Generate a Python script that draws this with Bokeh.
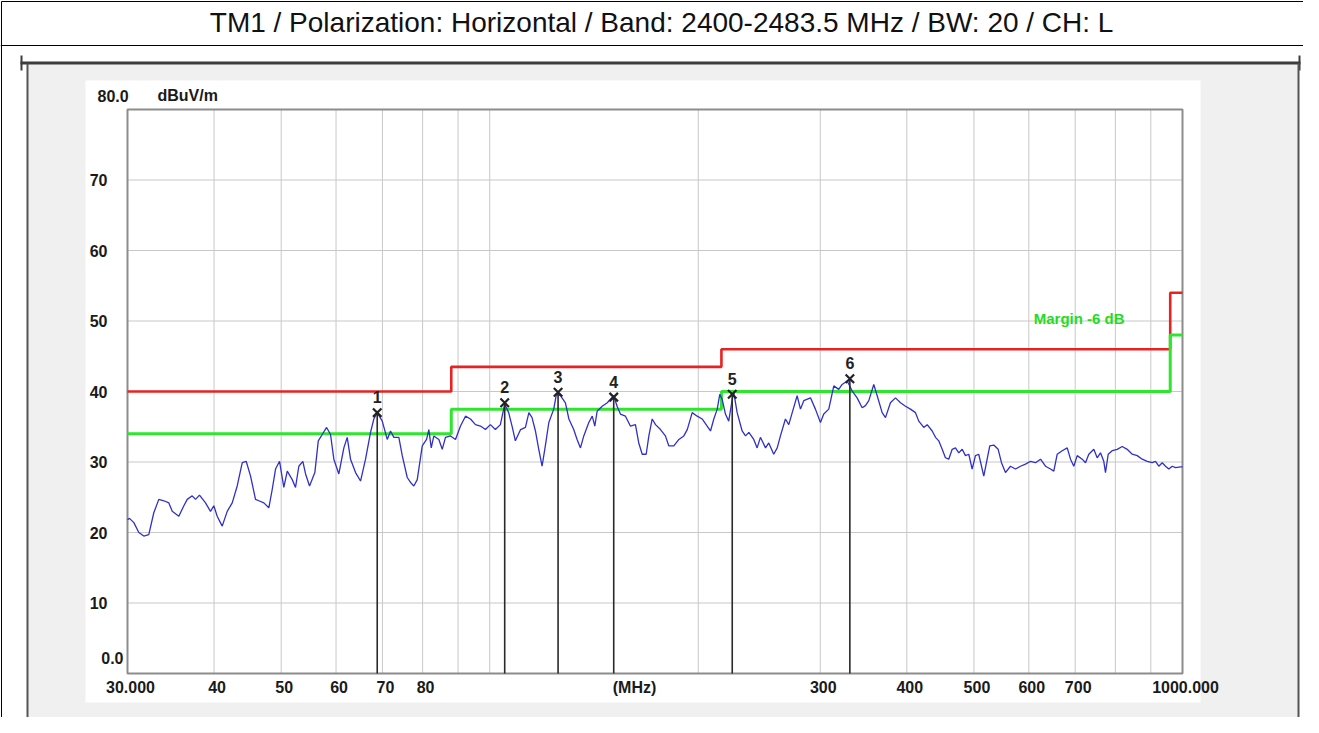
import math
from bokeh.plotting import figure
from bokeh.models import BoxAnnotation, Label, Range1d
from bokeh.embed import file_html
from bokeh.resources import INLINE
from bokeh.core.properties import value

# ---------------- data ----------------
title_text = "TM1 / Polarization: Horizontal / Band: 2400-2483.5 MHz  / BW: 20 / CH: L"

freq_1 = [30.0, 30.20, 30.64, 31.15, 31.67, 32.20, 32.74, 33.29, 33.85, 34.42,
          34.81, 35.58, 36.18, 36.59, 37.20, 37.61, 38.11, 38.88, 39.53, 39.97,
          40.42, 41.10, 41.79, 42.49, 43.20, 43.93, 44.51, 45.16, 45.91, 46.42,
          47.20, 47.99, 48.53, 49.07, 49.73, 50.44, 51.02, 51.87, 52.44, 53.02,
          53.73, 54.22, 54.94, 55.92, 56.56, 57.31, 58.14, 58.91, 59.56, 60.56]
level_1 = [21.8, 22.0, 21.4, 20.0, 19.5, 19.7, 22.8, 24.7, 24.5, 24.2,
           23.0, 22.3, 23.8, 24.7, 25.2, 24.7, 25.3, 24.2, 23.0, 23.8,
           22.3, 20.9, 23.0, 24.2, 26.6, 29.9, 30.1, 28.0, 24.7, 24.5,
           24.2, 23.5, 26.1, 29.0, 30.1, 26.4, 28.7, 27.5, 26.4, 29.4,
           30.1, 28.3, 26.6, 28.5, 33.0, 33.9, 34.9, 33.9, 30.4, 28.3]

freq_2 = [61.58, 62.27, 62.96, 64.02, 65.09, 66.18, 67.29, 68.03, 68.80, 69.96,
          71.13, 71.91, 72.71, 73.93, 74.77, 76.02, 76.86, 77.71, 78.59, 79.91,
          81.06, 81.68, 82.33, 83.05, 84.44, 85.40, 86.32, 87.77, 89.24, 90.74,
          92.26, 93.80, 95.37, 96.97, 98.59, 100.2, 101.9, 103.6, 105.1, 106.5,
          107.7, 108.9, 110.8, 112.6, 113.9, 115.1, 116.4, 117.7, 119.0, 120.3,
          121.7, 123.7, 124.8]
level_2 = [32.0, 33.5, 30.4, 28.5, 27.3, 30.4, 34.2, 36.1, 37.0, 35.8,
           33.2, 34.4, 33.5, 33.5, 30.9, 27.8, 27.1, 26.6, 27.5, 32.3,
           33.2, 34.6, 32.0, 33.7, 33.2, 31.8, 33.5, 33.7, 33.2, 35.1,
           36.5, 36.1, 35.3, 35.1, 34.6, 35.3, 34.6, 35.3, 38.2, 37.0,
           35.1, 33.0, 34.6, 34.9, 37.0, 36.3, 34.4, 31.8, 29.4, 32.3,
           35.6, 37.5, 39.6]

freq_3 = [126.5, 128.6, 130.1, 132.2, 133.7, 135.2, 136.7, 139.0, 140.6, 141.8,
          142.9, 145.3, 147.8, 149.4, 151.0, 152.7, 154.4, 157.0, 159.6, 162.3,
          164.1, 166.0, 168.2, 169.7, 171.6, 173.5, 176.4, 179.3, 181.3, 184.4,
          187.5, 190.6, 192.8, 196.0, 199.3, 202.6, 206.0, 208.3, 210.6, 213.0,
          214.8, 216.5, 218.9, 221.3, 223.9, 225.1, 227.6, 231.4, 234.0, 236.6,
          240.5, 243.2, 245.9, 250.1, 252.8, 257.0]
level_3 = [39.4, 38.4, 36.1, 34.6, 33.2, 32.0, 33.7, 35.6, 36.5, 35.1,
           37.2, 37.9, 38.4, 38.9, 39.4, 37.9, 36.8, 36.5, 35.1, 35.3,
           32.7, 31.1, 31.1, 33.7, 36.1, 35.3, 34.6, 33.7, 32.3, 32.3,
           33.2, 33.7, 34.6, 37.0, 36.5, 36.1, 35.1, 34.4, 36.1, 37.5,
           39.6, 38.9, 36.8, 35.8, 38.9, 39.8, 37.0, 34.4, 33.7, 34.2,
           33.2, 32.0, 33.5, 32.0, 32.7, 31.1]

freq_4 = [260.0, 262.8, 267.2, 270.2, 273.3, 277.8, 280.9, 284.0, 290.4, 295.2,
          300.2, 303.5, 308.6, 313.8, 319.0, 322.6, 328.1, 333.5, 339.1, 344.8,
          348.6, 352.5, 358.4, 362.5, 368.5, 372.6, 378.8, 385.2, 391.7, 398.2,
          404.9, 411.7, 416.2, 423.2, 428.0, 435.2, 440.0, 444.8, 449.9, 454.8,
          459.8, 465.1, 470.2, 475.4, 480.8, 486.1, 491.5, 497.0, 502.5, 508.0,
          516.6, 522.4, 527.0]
level_4 = [32.0, 33.7, 36.1, 35.3, 37.0, 39.4, 37.5, 38.7, 39.1, 37.5,
           35.6, 36.8, 37.5, 40.8, 40.3, 41.0, 41.5, 40.1, 39.1, 37.7,
           38.0, 38.7, 41.0, 39.4, 37.0, 36.3, 38.4, 39.1, 38.4, 37.9,
           37.5, 37.0, 35.8, 34.9, 35.3, 34.4, 33.5, 33.0, 31.8, 30.6,
           30.4, 31.8, 32.0, 31.3, 31.8, 30.9, 31.1, 29.0, 30.9, 31.1,
           28.0, 30.4, 32.3]

freq_5 = [534.0, 541.9, 547.9, 555.2, 564.5, 574.0, 583.6, 593.4, 603.4, 613.5,
          623.8, 634.2, 644.9, 652.0, 659.4, 670.4, 681.7, 689.2, 696.8, 704.7,
          716.5, 724.4, 732.4, 744.7, 753.1, 761.4, 769.8, 774.2, 781.2, 791.6,
          804.9, 818.4, 832.1, 846.1, 860.3, 874.7, 889.4, 904.3, 914.2, 924.3,
          934.8, 945.1, 955.6, 966.4, 977.1, 993.5, 1000.0]
level_5 = [32.4, 31.8, 29.9, 28.5, 29.4, 29.0, 29.4, 29.7, 30.1, 29.9,
           30.4, 29.4, 29.0, 28.7, 31.1, 31.6, 32.0, 30.4, 29.4, 30.9,
           30.4, 29.9, 31.1, 31.8, 30.6, 31.3, 30.1, 28.5, 31.1, 31.6,
           31.8, 32.2, 31.8, 31.1, 30.9, 30.4, 30.1, 29.9, 30.1, 29.4,
           29.9, 29.4, 29.0, 29.4, 29.2, 29.3, 29.3]

limit_freq = [30, 88, 88, 216, 216, 960, 960, 1000]
limit_db = [40.0, 40.0, 43.5, 43.5, 46.0, 46.0, 54.0, 54.0]
margin_db = [34.0, 34.0, 37.5, 37.5, 40.0, 40.0, 48.0, 48.0]
margin_text = "Margin -6 dB"
margin_text_freq = 610.0
margin_text_db = 50.4

marker_no = ["1", "2", "3", "4", "5", "6"]
marker_freq = [68.8, 105.1, 125.5, 151.0, 223.9, 331.0]
marker_db = [37.0, 38.4, 39.9, 39.2, 39.6, 41.8]

x_min, x_max = 30.0, 1000.0
y_min, y_max = 0.0, 80.0
x_ticks = [30, 40, 50, 60, 70, 80, 90, 100, 200, 300, 400, 500, 600, 700, 800, 900, 1000]
x_tick_text = ["30.000", "40", "50", "60", "70", "80", "", "", "", "300", "400",
               "500", "600", "700", "", "", "1000.000"]
y_ticks = [10, 20, 30, 40, 50, 60, 70]
y_tick_text = ["10", "20", "30", "40", "50", "60", "70"]
y_top_text = "80.0"
y_bottom_text = "0.0"
y_unit_text = "dBuV/m"
x_unit_text = "(MHz)"

freq = freq_1 + freq_2 + freq_3 + freq_4 + freq_5
level = level_1 + level_2 + level_3 + level_4 + level_5

# ---------------- layout (pixels) ----------------
W, H = 1303, 717
FL, FR, FT, FB = 127, 1182, 109, 673          # plot-area edges on the canvas
FONT = "Liberation Sans"

px_per_dec = (FR - FL) / math.log10(x_max / x_min)
px_per_db = (FB - FT) / (y_max - y_min)
xr = Range1d(x_min / 10 ** (FL / px_per_dec), x_max * 10 ** ((W - FR) / px_per_dec))
yr = Range1d(y_min - (H - FB) / px_per_db, y_max + FT / px_per_db)

p = figure(width=W, height=H, x_range=xr, y_range=yr,
           x_axis_type="log", y_axis_type="linear",
           x_axis_location=None, y_axis_location=None,
           output_backend="svg", toolbar_location=None,
           min_border=0, min_border_left=0, min_border_right=0,
           min_border_top=0, min_border_bottom=0)
p.grid.visible = False
p.outline_line_color = None
p.background_fill_color = "white"
p.border_fill_color = "white"


def cbox(l, r, t, b, fill=None, line=None, lw=1):
    box = BoxAnnotation(left=l, right=r, top=t, bottom=b,
                        left_units="canvas", right_units="canvas",
                        top_units="canvas", bottom_units="canvas",
                        fill_color=fill, fill_alpha=1.0 if fill else 0.0,
                        line_color=line, line_alpha=1.0 if line else 0.0,
                        line_width=lw, level="underlay")
    p.add_layout(box)


# page decorations (canvas pixels)
cbox(1, 1303, 1, 800, fill=None, line="#000000", lw=1)
cbox(0, 1303, 44.5, 45.5, fill="#000000")
cbox(27, 1298, 63, 800, fill="#f0f0f0")
cbox(85, 1200, 80, 702, fill="#ffffff")
cbox(20, 1300, 61, 64, fill="#3c3c3c")
cbox(20, 22, 55, 70, fill="#3c3c3c")
cbox(1298, 1300, 55, 70, fill="#3c3c3c")
cbox(26, 28, 63, 800, fill="#555555")
cbox(1297, 1299, 63, 800, fill="#555555")

p.add_layout(Label(x=665, y=22, x_units="canvas", y_units="canvas", text=title_text,
                   text_align="center", text_baseline="middle",
                   text_font=FONT, text_font_size="28px", text_color="#111111"))

# grid + plot outline, drawn through the data scales
p.segment(x0=x_ticks, y0=[y_min] * len(x_ticks), x1=x_ticks, y1=[y_max] * len(x_ticks),
          line_color="#c8c8c8", line_width=1)
p.segment(x0=[x_min] * len(y_ticks), y0=y_ticks, x1=[x_max] * len(y_ticks), y1=y_ticks,
          line_color="#c8c8c8", line_width=1)
p.quad(left=[x_min], right=[x_max], bottom=[y_min], top=[y_max],
       fill_color=None, line_color="#8c8c8c", line_width=2)

lab = dict(text_font=value(FONT), text_font_style="bold", text_font_size="16px",
           text_color="#1a1a1a")
p.text(x=x_ticks, y=[y_min] * len(x_ticks), text=x_tick_text, x_offset=3, y_offset=7,
       text_align="center", text_baseline="top", **lab)
p.text(x=[x_min] * len(y_ticks), y=y_ticks, text=y_tick_text, x_offset=-20,
       text_align="right", text_baseline="middle", **lab)

lkw = dict(text_font=FONT, text_font_style="bold", text_font_size="16px",
           text_color="#1a1a1a", text_baseline="middle")
p.add_layout(Label(x=123, y=657, x_units="canvas", y_units="canvas",
                   text=y_bottom_text, text_align="right", **lkw))
p.add_layout(Label(x=97, y=95, x_units="canvas", y_units="canvas",
                   text=y_top_text, text_align="left", **lkw))
p.add_layout(Label(x=157, y=95, x_units="canvas", y_units="canvas",
                   text=y_unit_text, text_align="left", **lkw))
p.add_layout(Label(x=634, y=687, x_units="canvas", y_units="canvas",
                   text=x_unit_text, text_align="center", **lkw))

# limit & margin lines
p.line(limit_freq, limit_db, line_color="#e82222", line_width=2.6)
p.line(limit_freq, margin_db, line_color="#2ee62e", line_width=3)
p.text(x=[margin_text_freq], y=[margin_text_db], text=[margin_text],
       text_font=value(FONT), text_font_style="bold", text_font_size="15px",
       text_color="#22dd22", text_align="left", text_baseline="middle")

# trace
p.line(freq, level, line_color="#3030c8", line_width=1.3)

# markers
p.segment(x0=marker_freq, y0=[y_min] * len(marker_freq), x1=marker_freq, y1=marker_db,
          line_color="#2a2a2a", line_width=1.6)
p.scatter(marker_freq, marker_db, marker="x", size=12, line_color="#222222", line_width=2.2)
p.text(x=marker_freq, y=[v + 2.2 for v in marker_db], text=marker_no,
       text_font=value(FONT), text_font_style="bold", text_font_size="16px",
       text_color="#222222", text_align="center", text_baseline="middle")

open("out.html", "w").write(file_html(p, INLINE))
